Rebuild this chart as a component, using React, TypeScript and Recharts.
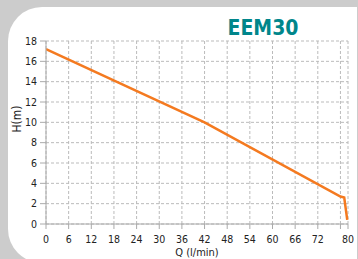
import React from "react"
import { LineChart, Line, XAxis, YAxis, CartesianGrid, Label } from "recharts"

const flow = [0, 42, 78, 79, 79.8]
const head = [17.2, 10, 2.7, 2.6, 0.4]
const xTicks = [0, 6, 12, 18, 24, 30, 36, 42, 48, 54, 60, 66, 72, 78, 80]
const yTicks = [0, 2, 4, 6, 8, 10, 12, 14, 16, 18]
const hiddenXLabels = [78]

const data = flow.map((q, i) => ({ q, h: head[i] }))

const font = "'DejaVu Sans Condensed', 'Roboto', sans-serif"

const XTick = (props: any) => {
  const { x, y, payload } = props
  if (hiddenXLabels.includes(payload.value)) return null
  return (
    <text x={x} y={y} dy={9.5} textAnchor="middle" fontSize={10.5} fill="#222" fontFamily={font}>
      {payload.value}
    </text>
  )
}

export default function App() {
  return (
    <div style={{ position: "absolute", left: 0, top: 0, width: 358, height: 259, background: "#cccccc", overflow: "hidden" }}>
      <div
        style={{
          position: "absolute",
          left: 8,
          top: 7,
          width: 349,
          height: 256,
          background: "#fff",
          borderRadius: "34px 0 0 34px",
        }}
      />
      <div
        style={{
          position: "absolute",
          left: 200,
          top: 16,
          width: 126,
          textAlign: "center",
          color: "#00868b",
          fontFamily: font,
          fontWeight: "bold",
          fontSize: 21,
          lineHeight: "24px",
        }}
      >
        EEM30
      </div>
      <div style={{ position: "absolute", left: 0, top: 0 }}>
        <LineChart width={358} height={259} data={data} margin={{ top: 41, right: 10, bottom: 0, left: 14 }}>
          <CartesianGrid stroke="#bbbbbb" strokeDasharray="3 2" horizontalValues={yTicks} verticalValues={xTicks} />
          <XAxis
            dataKey="q"
            type="number"
            domain={[0, 80]}
            ticks={xTicks}
            interval={0}
            height={35}
            tickSize={5}
            tickMargin={4}
            stroke="#aaaaaa"
            tick={<XTick />}
          >
            <Label value="Q (l/min)" position="insideBottom" offset={3} fontSize={11} fill="#222" fontFamily={font} />
          </XAxis>
          <YAxis
            type="number"
            domain={[0, 18]}
            ticks={yTicks}
            interval={0}
            width={32}
            tickSize={6}
            tickMargin={3}
            stroke="#aaaaaa"
            tick={{ fontSize: 10.5, fill: "#222", fontFamily: font }}
          >
            <Label value="H(m)" angle={-90} position="insideLeft" offset={3} fontSize={12} fill="#222" fontFamily={font} />
          </YAxis>
          <Line dataKey="h" stroke="#f47a20" strokeWidth={2.5} dot={false} isAnimationActive={false} />
        </LineChart>
      </div>
    </div>
  )
}
